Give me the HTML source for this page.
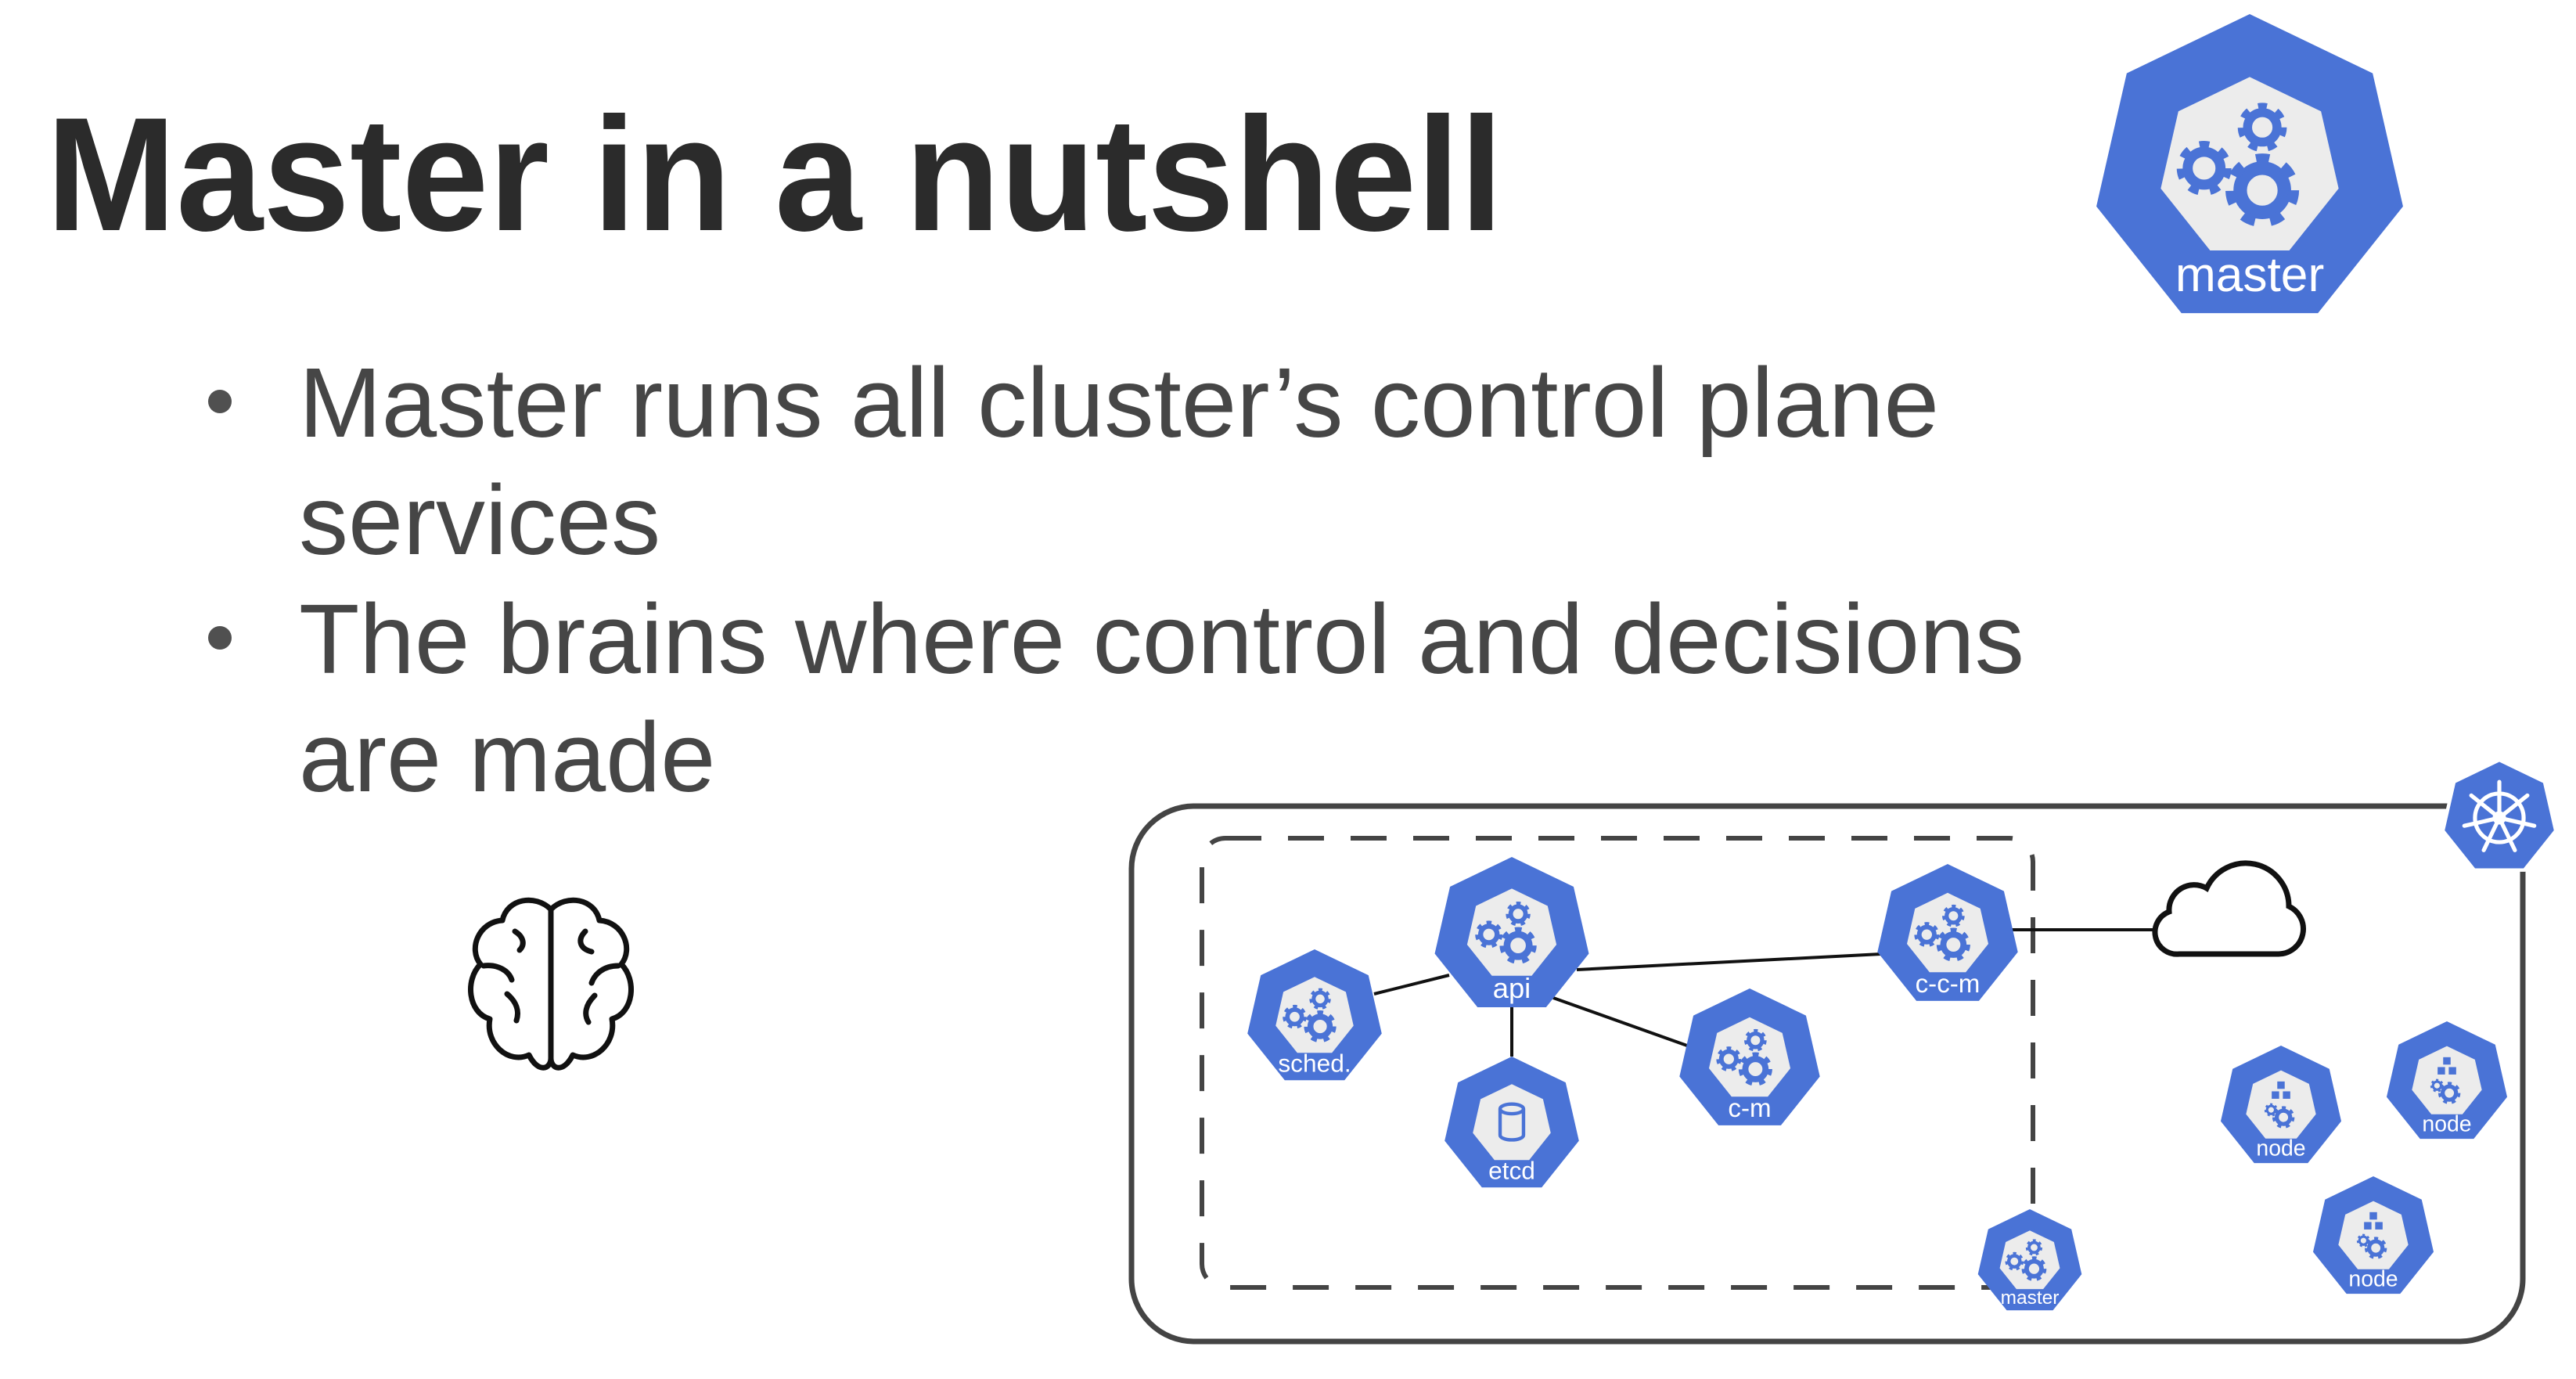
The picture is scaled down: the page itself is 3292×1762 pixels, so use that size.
<!DOCTYPE html>
<html><head><meta charset="utf-8"><style>
html,body{margin:0;padding:0;background:#fff;}
svg{display:block;}
</style></head><body>
<svg width="3292" height="1762" viewBox="0 0 3292 1762" xmlns="http://www.w3.org/2000/svg">
<defs>
<polygon id="hep" points="0,-100 78.18,-62.35 97.49,22.25 43.39,90.1 -43.39,90.1 -97.49,22.25 -78.18,-62.35"/>
<g id="gear">
 <circle r="7.2" fill="none" stroke="#4a73d6" stroke-width="4.4"/>
 <circle r="10.2" fill="none" stroke="#4a73d6" stroke-width="3.6" stroke-dasharray="4.2 5"/>
</g>
<g id="base">
 <use href="#hep" fill="#4a73d6"/>
 <use href="#hep" fill="#ececec" transform="translate(0,-2) scale(0.58)"/>
</g>
<g id="gears">
 <use href="#gear" transform="translate(8,-28) scale(1.3)"/>
 <use href="#gear" transform="translate(-29,-2) scale(1.45)"/>
 <use href="#gear" transform="translate(8,12) scale(1.95)"/>
</g>
<g id="nodeicon">
 <rect x="-6" y="-42" width="12" height="12" fill="#4a73d6"/>
 <rect x="-15" y="-26" width="12" height="12" fill="#4a73d6"/>
 <rect x="3" y="-26" width="12" height="12" fill="#4a73d6"/>
 <use href="#gear" transform="translate(-16,4) scale(0.9)"/>
 <use href="#gear" transform="translate(4,16) scale(1.5)"/>
</g>
</defs>

<!-- Title -->
<text x="59" y="294" font-family="Liberation Sans, sans-serif" font-weight="bold" font-size="207" fill="#2b2b2b" textLength="1862" lengthAdjust="spacingAndGlyphs">Master in a nutshell</text>

<!-- Bullets -->
<g font-family="Liberation Sans, sans-serif" font-size="126" fill="#464646">
<circle cx="281" cy="513" r="15" fill="#505050"/>
<circle cx="281" cy="815" r="15" fill="#505050"/>
<text x="382" y="558" textLength="2096" lengthAdjust="spacingAndGlyphs">Master runs all cluster’s control plane</text>
<text x="382" y="708">services</text>
<text x="382" y="860" textLength="2205" lengthAdjust="spacingAndGlyphs">The brains where control and decisions</text>
<text x="382" y="1011">are made</text>
</g>

<!-- Brain -->
<g fill="none" stroke="#111" stroke-width="7" stroke-linecap="round" stroke-linejoin="round">
<path d="M704 1162 C684 1142,648 1148,642 1176 C612 1178,598 1212,614 1232 C594 1252,598 1294,626 1302 C620 1334,650 1360,676 1348 C688 1372,704 1366,704 1352 Z"/>
<path d="M704 1162 C724 1142,760 1148,766 1176 C796 1178,810 1212,794 1232 C814 1252,810 1294,782 1302 C788 1334,758 1360,732 1348 C720 1372,704 1366,704 1352 Z"/>
<path d="M704 1162 L704 1352"/>
<path d="M658 1190 C668 1196,672 1206,664 1214"/>
<path d="M748 1190 C738 1200,740 1212,756 1216"/>
<path d="M618 1234 C636 1232,650 1240,654 1252"/>
<path d="M790 1234 C772 1234,760 1244,756 1256"/>
<path d="M648 1270 C660 1280,664 1292,660 1304"/>
<path d="M760 1272 C748 1284,746 1296,752 1306"/>
</g>

<!-- Big master icon -->
<g transform="translate(2875,219) scale(2.01)">
 <use href="#base"/><use href="#gears"/>
 <text x="0" y="76" text-anchor="middle" font-family="Liberation Sans, sans-serif" font-size="31" fill="#fff">master</text>
</g>

<!-- Outer cluster box -->
<rect x="1446" y="1030" width="1778" height="684" rx="80" fill="none" stroke="#444" stroke-width="7"/>
<!-- Dashed master box -->
<rect x="1536" y="1071" width="1062" height="574" rx="30" fill="none" stroke="#444" stroke-width="6" stroke-dasharray="46 34"/>

<!-- connectors -->
<g stroke="#111" stroke-width="4">
<line x1="1852" y1="1246" x2="1756" y2="1270"/>
<line x1="2015" y1="1239" x2="2404" y2="1219"/>
<line x1="1932" y1="1287" x2="1932" y2="1350"/>
<line x1="1985" y1="1275" x2="2156" y2="1336"/>
<line x1="2570" y1="1188" x2="2751" y2="1188"/>
</g>

<!-- cloud -->
<path d="M2785 1219 L2912 1219 A32 32 0 0 0 2925 1158 A55 55 0 0 0 2820 1135 A32 32 0 0 0 2772 1165 A28 28 0 0 0 2785 1219 Z" fill="#fff" stroke="#111" stroke-width="7"/>

<!-- nodes -->
<g font-family="Liberation Sans, sans-serif" font-size="36" fill="#fff" text-anchor="middle">
<g transform="translate(1932,1196) scale(1.01)"><use href="#base"/><use href="#gears"/><text x="0" y="78">api</text></g>
<g transform="translate(1680,1301) scale(0.88)"><use href="#base"/><use href="#gears"/><text x="0" y="78">sched.</text></g>
<g transform="translate(1932,1438) scale(0.88)"><use href="#base"/>
 <g fill="none" stroke="#4a73d6" stroke-width="5"><ellipse cx="0" cy="-24" rx="17" ry="7"/><path d="M-17 -24 V14 A17 7 0 0 0 17 14 V-24"/></g>
 <text x="0" y="78">etcd</text></g>
<g transform="translate(2236,1355) scale(0.92)"><use href="#base"/><use href="#gears"/><text x="0" y="78">c-m</text></g>
<g transform="translate(2489,1196) scale(0.92)"><use href="#base"/><use href="#gears"/><text x="0" y="78">c-c-m</text></g>
<g transform="translate(2594,1613) scale(0.68)"><use href="#base"/><use href="#gears"/><text x="0" y="78">master</text></g>
<g transform="translate(2915,1415) scale(0.79)"><use href="#base"/><use href="#nodeicon"/><text x="0" y="78">node</text></g>
<g transform="translate(3127,1384) scale(0.79)"><use href="#base"/><use href="#nodeicon"/><text x="0" y="78">node</text></g>
<g transform="translate(3033,1582) scale(0.79)"><use href="#base"/><use href="#nodeicon"/><text x="0" y="78">node</text></g>
</g>

<!-- k8s wheel -->
<g transform="translate(3194,1045) scale(0.74)">
 <use href="#hep" fill="#4a73d6" stroke="#fff" stroke-width="6"/>
 <g stroke="#fff" stroke-width="7" fill="none" stroke-linecap="round">
  <circle r="42"/>
  <circle r="8" fill="#fff"/>
  <g id="spk"><line x1="0" y1="-8" x2="0" y2="-62"/></g>
  <use href="#spk" transform="rotate(51.43)"/>
  <use href="#spk" transform="rotate(102.86)"/>
  <use href="#spk" transform="rotate(154.29)"/>
  <use href="#spk" transform="rotate(205.71)"/>
  <use href="#spk" transform="rotate(257.14)"/>
  <use href="#spk" transform="rotate(308.57)"/>
 </g>
</g>
</svg>
</body></html>
